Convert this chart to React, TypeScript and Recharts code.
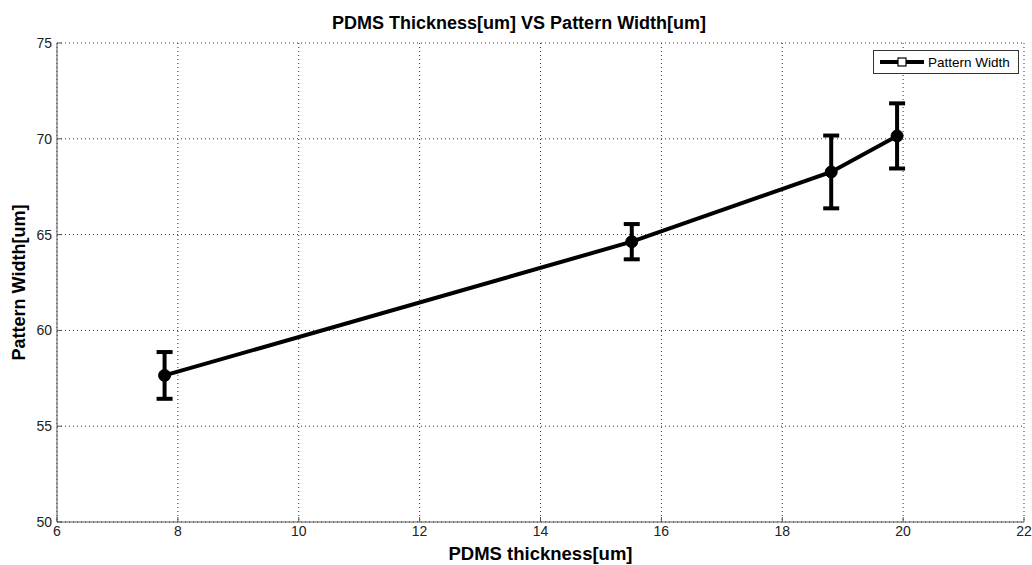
import {
  CartesianGrid,
  ComposedChart,
  ErrorBar,
  Label,
  Legend,
  Line,
  XAxis,
  YAxis,
} from "recharts";

// PDMS layer thickness vs measured pattern width, mean ± spread
const thickness = [7.78, 15.51, 18.81, 19.9];
const patternWidth = [57.65, 64.63, 68.27, 70.15];
const widthError = [1.22, 0.92, 1.9, 1.7];

const xTicks = [6, 8, 10, 12, 14, 16, 18, 20, 22];
const yTicks = [50, 55, 60, 65, 70, 75];

const data = thickness.map((t, i) => ({
  thickness: t,
  width: patternWidth[i],
  err: widthError[i],
}));

const FONT = '"Liberation Sans", Arial, Helvetica, sans-serif';
const AXIS = "#555";
const tickStyle = { fontSize: 14, fill: "#222", fontFamily: FONT };

function YTitle({ viewBox }: any) {
  const cx = viewBox.x + 19;
  const cy = viewBox.y + viewBox.height / 2;
  return (
    <text
      x={cx}
      y={cy}
      transform={`rotate(-90 ${cx} ${cy})`}
      textAnchor="middle"
      dominantBaseline="central"
      fontFamily={FONT}
      fontSize={18}
      fontWeight="bold"
      fill="#000"
    >
      Pattern Width[um]
    </text>
  );
}

function LegendBox() {
  return (
    <div
      style={{
        boxSizing: "border-box",
        width: 146,
        height: 24,
        border: "1px solid #333",
        background: "#fff",
        display: "flex",
        alignItems: "center",
        fontFamily: FONT,
        fontSize: 13.5,
        color: "#000",
      }}
    >
      <svg width={52} height={22}>
        <line x1={6} y1={11} x2={50} y2={11} stroke="#000" strokeWidth={4} />
        <rect x={24} y={7} width={8} height={8} fill="#fff" stroke="#000" strokeWidth={1.2} />
      </svg>
      <span style={{ marginLeft: 2 }}>Pattern Width</span>
    </div>
  );
}

export default function App() {
  return (
    <div style={{ position: "absolute", left: 0, top: 0, width: 1032, height: 565, background: "#fff" }}>
      <div
        style={{
          position: "absolute",
          left: 219,
          top: 13,
          width: 600,
          textAlign: "center",
          fontFamily: FONT,
          fontSize: 18,
          fontWeight: "bold",
          color: "#000",
          lineHeight: "20px",
        }}
      >
        PDMS Thickness[um] VS Pattern Width[um]
      </div>
      <ComposedChart
        width={1032}
        height={565}
        data={data}
        margin={{ top: 43, right: 8, bottom: 0, left: 0 }}
      >
        <CartesianGrid stroke="#333" strokeDasharray="1 3" />
        <XAxis
          dataKey="thickness"
          type="number"
          domain={[6, 22]}
          ticks={xTicks}
          height={43}
          stroke={AXIS}
          tickSize={-5}
          tickMargin={9}
          tick={tickStyle}
          allowDataOverflow
        >
          <Label
            value="PDMS thickness[um]"
            position="insideBottom"
            offset={5}
            style={{ fontFamily: FONT, fontSize: 18.5, fontWeight: "bold", fill: "#000" }}
          />
        </XAxis>
        <XAxis
          xAxisId="top"
          orientation="top"
          type="number"
          domain={[6, 22]}
          ticks={xTicks}
          height={0}
          stroke={AXIS}
          tickSize={-5}
          tick={false}
          allowDataOverflow
        />
        <YAxis
          type="number"
          domain={[50, 75]}
          ticks={yTicks}
          width={57}
          stroke={AXIS}
          tickSize={-5}
          tickMargin={10}
          tick={tickStyle}
          allowDataOverflow
        >
          <Label content={YTitle} />
        </YAxis>
        <YAxis
          yAxisId="right"
          orientation="right"
          type="number"
          domain={[50, 75]}
          ticks={yTicks}
          width={0}
          stroke={AXIS}
          tickSize={-5}
          tick={false}
          allowDataOverflow
        />
        <Legend
          layout="horizontal"
          verticalAlign="middle"
          align="center"
          wrapperStyle={{ top: 50, left: 873, width: 146, height: 24 }}
          content={LegendBox}
        />
        <Line
          dataKey="width"
          name="Pattern Width"
          stroke="#000"
          strokeWidth={4}
          dot={{ r: 6, fill: "#000", stroke: "#000", strokeWidth: 1 }}
          activeDot={false}
          isAnimationActive={false}
        >
          <ErrorBar
            dataKey="err"
            direction="y"
            width={8}
            stroke="#000"
            strokeWidth={4}
            isAnimationActive={false}
          />
        </Line>
      </ComposedChart>
    </div>
  );
}
